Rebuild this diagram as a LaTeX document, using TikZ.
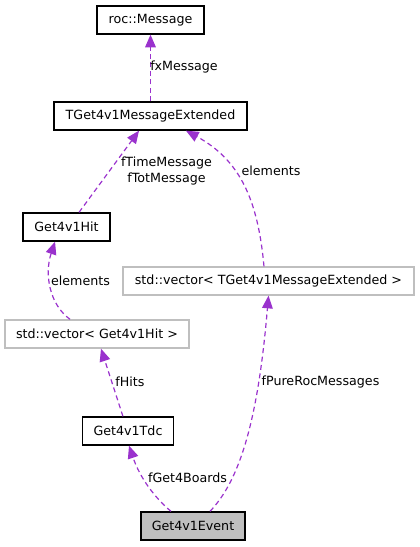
\documentclass[tikz,border=0pt]{standalone}
\usepackage{fontspec}
\setmainfont{DejaVu Sans}
\usetikzlibrary{arrows.meta}
\usetikzlibrary{positioning}
\definecolor{edgepurple}{HTML}{9A32CD}
\definecolor{boxgrey}{HTML}{BFBFBF}

\begin{document}
\begin{tikzpicture}[x=0.75pt,y=-0.75pt,
  every node/.style={font=\fontsize{9.5}{12}\selectfont},
  cls/.style={draw=black, line width=1pt, minimum height=21pt, inner sep=0pt},
  tmpl/.style={draw=boxgrey, line width=1pt, minimum height=21pt, inner sep=0pt},
  uses/.style={edgepurple, line width=0.9pt, dash pattern=on 3.75pt off 2.6pt,
    -{Triangle[length=9.5pt,width=8pt]}}]
\useasboundingbox (0,0) rectangle (420,547);
% classes
\node[cls, minimum width=80.25pt] (rocmsg) at (150.5,20) {roc::Message};
\node[cls, minimum width=144.75pt] (msgext) at (150.5,116) {TGet4v1MessageExtended};
\node[cls, minimum width=65.25pt] (hit) at (66.5,227) {Get4v1Hit};
\node[tmpl, minimum width=218.25pt] (vecmsg) at (268.5,281) {std::vector< TGet4v1MessageExtended >};
\node[tmpl, minimum width=138pt] (vechit) at (97,334) {std::vector< Get4v1Hit >};
\node[cls, minimum width=68.25pt] (tdc) at (128,431) {Get4v1Tdc};
\node[cls, fill=boxgrey, minimum width=78pt] (event) at (193,526) {Get4v1Event};
% members
\draw[uses] (msgext.north) -- (rocmsg.south);
\node (lxmsg) at (184,67) {fxMessage};
\draw[uses] ([xshift=9.4pt]hit.north) -- ([xshift=-8.6pt]msgext.south);
\node[align=center] (ltime) at (166.5,171) {fTimeMessage\\fTotMessage};
\draw[uses] ([xshift=-3.4pt]vecmsg.north) .. controls (258,200) and (240,160) .. ([xshift=26.6pt]msgext.south);
\node (lelem1) at (271,171) {elements};
\draw[uses] ([xshift=-20.2pt]vechit.north) .. controls (50,305) and (44,275) .. ([xshift=-8.6pt]hit.south);
\node (lelem2) at (80.5,281) {elements};
\draw[uses] ([xshift=-3.8pt]tdc.north) -- ([xshift=3pt]vechit.south);
\node (lhits) at (130,382) {fHits};
\draw[uses] ([xshift=-16.5pt]event.north) .. controls (155,498) and (140,478) .. ([xshift=0.75pt]tdc.south);
\node (lboards) at (187.5,478) {fGet4Boards};
\draw[uses] ([xshift=12.75pt]event.north) .. controls (240,480) and (258,420) .. ([xshift=0pt]vecmsg.south);
\node (lpure) at (320.5,382) {fPureRocMessages};
\end{tikzpicture}
\end{document}
